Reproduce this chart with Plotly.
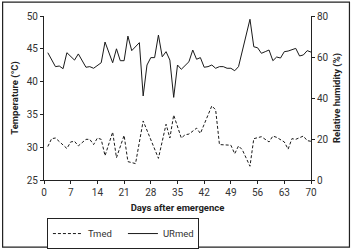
import plotly.graph_objects as go

# Humidity (URmed, %), right axis
ur_days = [1, 3, 4, 5, 6, 8, 9, 11, 12, 13, 15, 16, 18, 19, 20, 21, 22, 23, 25, 26,
           27, 28, 29, 30, 31, 32, 33, 34, 35, 36, 38, 39, 40, 41, 42, 43, 44, 45, 46, 47,
           48, 49, 50, 51, 54, 55, 56, 57, 58, 59, 60, 61, 62, 63, 64, 66, 67, 68, 69, 70]
ur_vals = [62.1, 55.3, 55.6, 54.3, 62.1, 58.5, 61.5, 55.0, 55.3, 54.5, 57.2, 67.3, 57.2, 64.0, 58.2, 58.2, 70.2, 63.1, 67.0, 41.0,
           56.1, 59.7, 59.7, 70.7, 60.1, 62.6, 58.5, 40.3, 56.1, 54.0, 57.7, 63.4, 58.9, 59.7, 55.0, 55.3, 56.1, 54.5, 55.3, 55.3,
           54.5, 54.5, 53.3, 55.3, 78.4, 65.0, 64.5, 61.8, 62.6, 63.4, 58.2, 60.0, 59.5, 62.6, 62.9, 64.2, 60.5, 61.0, 63.1, 62.4]

# Temperature (Tmed, °C), left axis
t_days = [1, 2, 3, 6, 7, 8, 9, 11, 12, 13, 14, 15, 16, 18, 19, 21, 22, 24, 26, 28,
          30, 32, 33, 34, 36, 37, 38, 40, 41, 44, 45, 46, 47, 49, 50, 51, 52, 54, 55, 57,
          59, 60, 61, 63, 64, 65, 66, 68, 69, 70]
t_vals = [30.1, 31.3, 31.4, 29.8, 30.8, 30.9, 30.2, 31.2, 31.2, 30.4, 31.4, 31.2, 28.7, 32.3, 28.4, 31.8, 27.8, 27.5, 34.0, 31.1,
          28.3, 33.5, 31.4, 34.9, 31.4, 31.9, 32.0, 32.9, 32.1, 36.3, 35.7, 30.4, 30.4, 30.3, 29.0, 30.2, 29.6, 27.1, 31.3, 31.6,
          30.8, 31.7, 31.5, 30.8, 29.7, 31.3, 31.2, 31.7, 31.0, 30.9]

x_ticks = [0, 7, 14, 21, 28, 35, 42, 49, 56, 63, 70]

FONT = "Roboto, Liberation Sans, sans-serif"

fig = go.Figure()
fig.add_trace(go.Scatter(x=t_days, y=t_vals, mode="lines", name="Tmed",
                         line=dict(color="#1a1a1a", width=1, dash="3px,2px"), yaxis="y"))
fig.add_trace(go.Scatter(x=ur_days, y=ur_vals, mode="lines", name="URmed",
                         line=dict(color="#1a1a1a", width=1), yaxis="y2"))

axis_common = dict(showgrid=False, zeroline=False, showline=True, linecolor="#222",
                   linewidth=1, ticks="outside", ticklen=3, tickcolor="#222",
                   tickfont=dict(family=FONT, size=10, color="#333"))

title_font = dict(family=FONT, size=9.5, color="#222")

fig.update_layout(
    width=352, height=251,
    margin=dict(l=44, r=40.5, t=16, b=71, autoexpand=False),
    paper_bgcolor="white", plot_bgcolor="white",
    font=dict(family=FONT, size=10, color="#222"),
    showlegend=True,
    legend=dict(orientation="h", x=0.011, y=-0.232, xanchor="left", yanchor="top",
                bordercolor="#222", borderwidth=1, font=dict(family=FONT, size=9.5, color="#333"),
                itemwidth=30, entrywidth=30, entrywidthmode="pixels",
                tracegroupgap=0, itemclick=False),
    xaxis=dict(range=[0, 70], tickvals=x_ticks, **axis_common,
               title=dict(text="<b>Days after emergence</b>", standoff=7, font=title_font)),
    yaxis=dict(range=[25, 50], dtick=5, **axis_common,
               title=dict(text="<b>Temperature (°C)</b>", standoff=6, font=title_font)),
    yaxis2=dict(range=[0, 80], dtick=20, overlaying="y", side="right", **axis_common,
                title=dict(text="<b>Relative humidity (%)</b>", standoff=5, font=title_font)),
    shapes=[dict(type="rect", xref="paper", yref="paper", x0=-0.155, x1=1.144,
                 y0=-0.409, y1=1.085, line=dict(color="#222", width=1.2))],
)

fig.write_html("out.html", config={"displayModeBar": False},
               post_script="document.body.style.margin='0';")
